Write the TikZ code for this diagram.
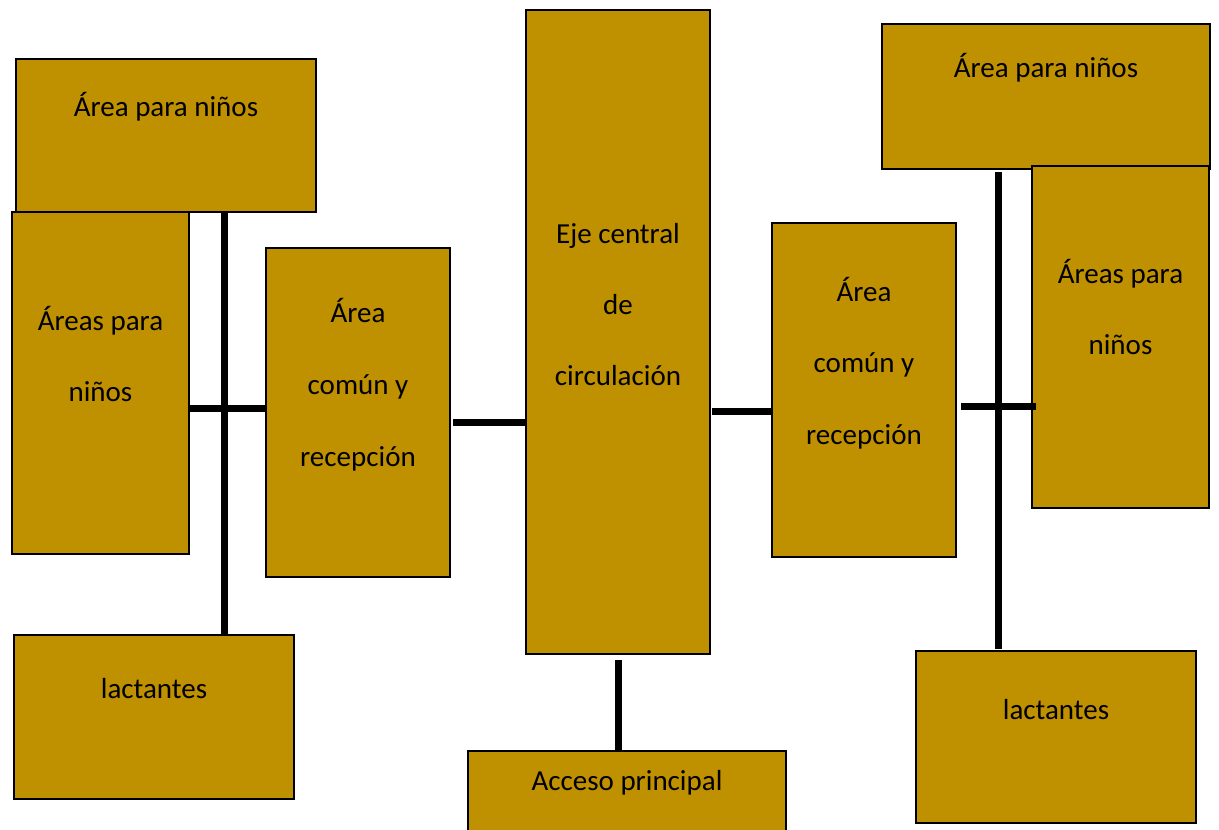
\documentclass[tikz,border=0pt]{standalone}
\usepackage{fontspec}
\setmainfont{Carlito}
\definecolor{gold}{HTML}{BF9000}
\begin{document}
\begin{tikzpicture}[x=1pt,y=-1pt,
  box/.style={draw=black,line width=2pt,fill=gold,inner sep=0pt,outer sep=0pt},
  lbl/.style={anchor=base,inner sep=0pt,font=\fontsize{29}{35}\selectfont},
  conn/.style={line width=7pt,draw=black}]
\clip (0,0) rectangle (1219,830);
\fill[white] (0,0) rectangle (1219,830);
% boxes
\node[box,minimum width=300pt,minimum height=153pt] (tl) at (166,135.5) {};
\node[box,minimum width=177pt,minimum height=342pt] (ln) at (100.5,383) {};
\node[box,minimum width=184pt,minimum height=329pt] (lc) at (358,412.5) {};
\node[box,minimum width=184pt,minimum height=644pt] (ce) at (618,332) {};
\node[box,minimum width=184pt,minimum height=334pt] (rc) at (864,390) {};
\node[box,minimum width=328pt,minimum height=145pt] (tr) at (1046,96.5) {};
\node[box,minimum width=177pt,minimum height=342pt] (rn) at (1120.5,337) {};
\node[box,minimum width=280pt,minimum height=164pt] (bl) at (154,717) {};
\node[box,minimum width=318pt,minimum height=99pt] (ac) at (627,800.5) {};
\node[box,minimum width=280pt,minimum height=172pt] (br) at (1056,737) {};
% helper coordinates
\coordinate (xl) at (224,0);
\coordinate (xc) at (618,0);
\coordinate (xr) at (998,0);
\coordinate (y1) at (0,408);
\coordinate (y2) at (0,422);
\coordinate (y3) at (0,411);
\coordinate (y4) at (0,406);
% connectors
\draw[conn] (tl.south -| xl) -- ([yshift=1pt]bl.north -| xl);
\draw[conn] (ln.east |- y1) -- (lc.west |- y1);
\draw[conn] ([xshift=3pt]lc.east |- y2) -- (ce.west |- y2);
\draw[conn] ([yshift=-6pt]ce.south -| xc) -- (ac.north -| xc);
\draw[conn] ([xshift=2pt]ce.east |- y3) -- (rc.west |- y3);
\draw[conn] ([yshift=-3pt]tr.south -| xr) -- ([yshift=2pt]br.north -| xr);
\draw[conn] ([xshift=5pt]rc.east |- y4) -- ([xshift=4pt]rn.west |- y4);
% labels
\coordinate (b1) at (0,116);
\node[lbl] (t-tl) at (tl.center |- b1) {Área para niños};
\coordinate (b2a) at (0,330);
\coordinate (b2b) at (0,401);
\node[lbl] (t-ln1) at (ln.center |- b2a) {Áreas para};
\node[lbl] (t-ln2) at (ln.center |- b2b) {niños};
\coordinate (b3a) at (0,322);
\coordinate (b3b) at (0,394);
\coordinate (b3c) at (0,466);
\node[lbl] (t-lc1) at (lc.center |- b3a) {Área};
\node[lbl] (t-lc2) at (lc.center |- b3b) {común y};
\node[lbl] (t-lc3) at (lc.center |- b3c) {recepción};
\coordinate (b4a) at (0,243);
\coordinate (b4b) at (0,314);
\coordinate (b4c) at (0,385);
\node[lbl] (t-ce1) at (ce.center |- b4a) {Eje central};
\node[lbl] (t-ce2) at (ce.center |- b4b) {de};
\node[lbl] (t-ce3) at (ce.center |- b4c) {circulación};
\coordinate (b5a) at (0,301);
\coordinate (b5b) at (0,372);
\coordinate (b5c) at (0,444);
\node[lbl] (t-rc1) at (rc.center |- b5a) {Área};
\node[lbl] (t-rc2) at (rc.center |- b5b) {común y};
\node[lbl] (t-rc3) at (rc.center |- b5c) {recepción};
\coordinate (b6) at (0,77);
\node[lbl] (t-tr) at (tr.center |- b6) {Área para niños};
\coordinate (b7a) at (0,283);
\coordinate (b7b) at (0,354);
\node[lbl] (t-rn1) at (rn.center |- b7a) {Áreas para};
\node[lbl] (t-rn2) at (rn.center |- b7b) {niños};
\coordinate (b8) at (0,698);
\node[lbl] (t-bl) at (bl.center |- b8) {lactantes};
\coordinate (b9) at (0,790);
\node[lbl] (t-ac) at (ac.center |- b9) {Acceso principal};
\coordinate (b10) at (0,719);
\node[lbl] (t-br) at (br.center |- b10) {lactantes};
\end{tikzpicture}
\end{document}
